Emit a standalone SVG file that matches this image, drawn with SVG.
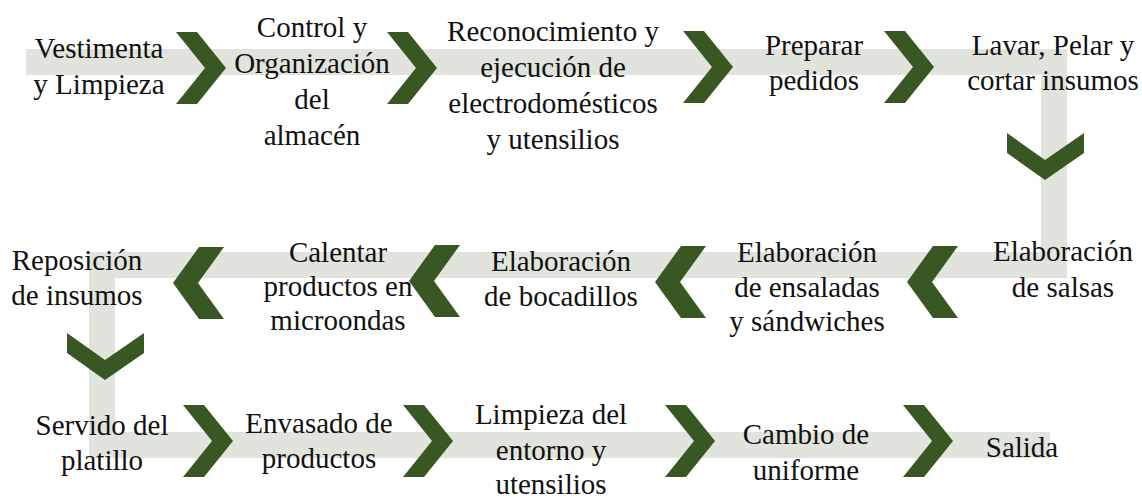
<svg xmlns="http://www.w3.org/2000/svg" xmlns:xlink="http://www.w3.org/1999/xlink" width="1142" height="498" viewBox="0 0 1142 498">
<style>
.band{fill:#E0E4DC}
.chev{fill:#385723}
.t{font-family:'Liberation Serif','DejaVu Serif',serif;font-size:29px;fill:#111;text-anchor:middle}
</style>
<defs>
<polygon id="cr" points="0,0 21,0 50,36 21,72 0,72 29,36"/>
<polygon id="cl" points="0,36 26,0 51,0 25,36 51,72 26,72"/>
<polygon id="cd" points="0,0 38,27 77,0 77,20 38,47 0,20"/>
</defs>
<rect width="1142" height="498" fill="#fff"/>
<g id="bands" class="band">
<rect x="26" y="49" width="1041" height="26"/>
<rect x="1041" y="49" width="26" height="229"/>
<rect x="89" y="252" width="978" height="26"/>
<rect x="89" y="252" width="26" height="206"/>
<rect x="89" y="432" width="961" height="26"/>
</g>
<g id="connectors" class="chev">
<use xlink:href="#cr" x="176" y="32"/>
<use xlink:href="#cr" x="387" y="32"/>
<use xlink:href="#cr" x="683" y="31"/>
<use xlink:href="#cr" x="884" y="31"/>
<use xlink:href="#cd" x="1007" y="133"/>
<use xlink:href="#cl" x="907" y="246"/>
<use xlink:href="#cl" x="655" y="246"/>
<use xlink:href="#cl" x="409" y="245"/>
<use xlink:href="#cl" x="173" y="247"/>
<use xlink:href="#cd" x="67" y="333"/>
<use xlink:href="#cr" x="183" y="405"/>
<use xlink:href="#cr" x="403" y="405"/>
<use xlink:href="#cr" x="665" y="405"/>
<use xlink:href="#cr" x="903" y="405"/>
</g>
<g font-family="Liberation Serif, DejaVu Serif, serif">
<g id="n1"><text class="t" x="99" y="58">Vestimenta</text><text class="t" x="99" y="94">y Limpieza</text></g>
<g id="n2"><text class="t" x="312" y="37">Control y</text><text class="t" x="312" y="73">Organización</text><text class="t" x="312" y="109">del</text><text class="t" x="312" y="145">almacén</text></g>
<g id="n3"><text class="t" x="553" y="41">Reconocimiento y</text><text class="t" x="553" y="77">ejecución de</text><text class="t" x="553" y="113">electrodomésticos</text><text class="t" x="553" y="149">y utensilios</text></g>
<g id="n4"><text class="t" x="814" y="55">Preparar</text><text class="t" x="814" y="90">pedidos</text></g>
<g id="n5"><text class="t" x="1053" y="55">Lavar, Pelar y</text><text class="t" x="1053" y="90">cortar insumos</text></g>
<g id="n6"><text class="t" x="1063" y="261">Elaboración</text><text class="t" x="1063" y="297">de salsas</text></g>
<g id="n7"><text class="t" x="807" y="262">Elaboración</text><text class="t" x="807" y="297">de ensaladas</text><text class="t" x="807" y="331">y sándwiches</text></g>
<g id="n8"><text class="t" x="561" y="271">Elaboración</text><text class="t" x="561" y="306">de bocadillos</text></g>
<g id="n9"><text class="t" x="338" y="262">Calentar</text><text class="t" x="338" y="296">productos en</text><text class="t" x="338" y="330">microondas</text></g>
<g id="n10"><text class="t" x="77" y="270">Reposición</text><text class="t" x="77" y="305">de insumos</text></g>
<g id="n11"><text class="t" x="102" y="435">Servido del</text><text class="t" x="102" y="470">platillo</text></g>
<g id="n12"><text class="t" x="319" y="433">Envasado de</text><text class="t" x="319" y="468">productos</text></g>
<g id="n13"><text class="t" x="551" y="424">Limpieza del</text><text class="t" x="551" y="460">entorno y</text><text class="t" x="551" y="494">utensilios</text></g>
<g id="n14"><text class="t" x="806" y="444">Cambio de</text><text class="t" x="806" y="480">uniforme</text></g>
<g id="n15"><text class="t" x="1022" y="457">Salida</text></g>
</g>
</svg>
